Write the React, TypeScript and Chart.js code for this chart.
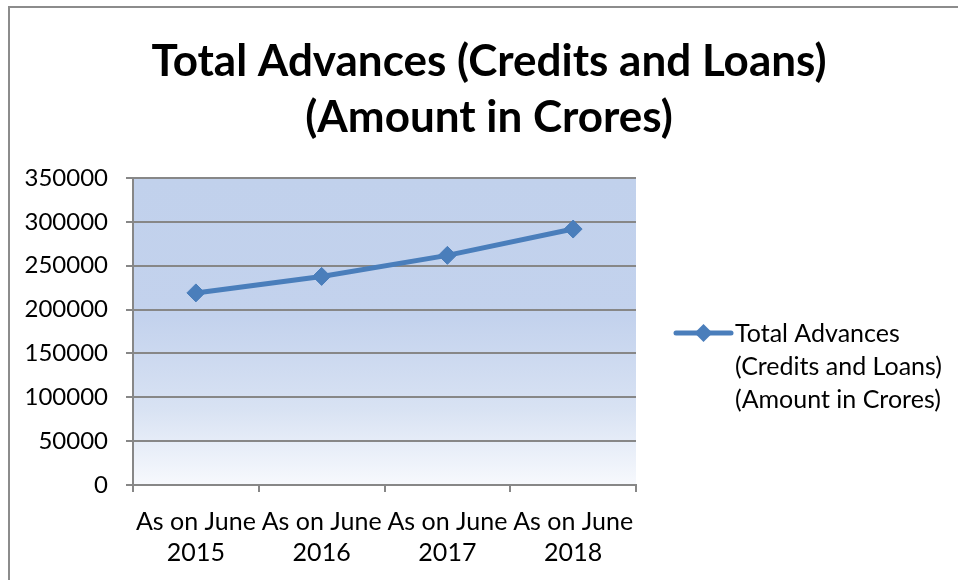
import React, { useEffect, useRef } from "react";
import { Chart, registerables } from "chart.js";

Chart.register(...registerables);

const categories: string[][] = [
  ["As on June", "2015"],
  ["As on June", "2016"],
  ["As on June", "2017"],
  ["As on June", "2018"],
];
const advances: number[] = [219000, 237800, 261800, 291800];
const titleLines: string[] = ["Total Advances (Credits and Loans)", "(Amount in Crores)"];
const seriesLabel = "Total Advances (Credits and Loans) (Amount in Crores)";
const legendLines: string[] = ["Total Advances", "(Credits and Loans)", "(Amount in Crores)"];
const yTicks: number[] = [0, 50000, 100000, 150000, 200000, 250000, 300000, 350000];

const FONT = "Lato, 'Open Sans', sans-serif";
const BLUE = "#4a7ebb";
const GRID = "#878787";

const bgPlugin = {
  id: "plotBg",
  beforeDraw(chart: any) {
    const { ctx, chartArea: a } = chart;
    const g = ctx.createLinearGradient(0, a.top, 0, a.bottom);
    g.addColorStop(0, "#c1d1ec");
    g.addColorStop(0.45, "#c3d2ed");
    g.addColorStop(0.75, "#d8e2f3");
    g.addColorStop(1, "#f7f9fd");
    ctx.save();
    ctx.fillStyle = g;
    ctx.fillRect(a.left, a.top, a.right - a.left, a.bottom - a.top);
    ctx.restore();
  },
};

const titlePlugin = {
  id: "wideTitle",
  afterDraw(chart: any) {
    const { ctx } = chart;
    ctx.save();
    ctx.fillStyle = "#000";
    ctx.font = `bold 44px ${FONT}`;
    ctx.textAlign = "center";
    ctx.textBaseline = "middle";
    titleLines.forEach((t, i) => ctx.fillText(t, 489, 62 + i * 56));
    ctx.restore();
  },
};

const legendPlugin = {
  id: "sideLegend",
  afterDraw(chart: any) {
    const { ctx } = chart;
    const x0 = 676;
    const x1 = 731;
    const y = 333;
    ctx.save();
    ctx.strokeStyle = BLUE;
    ctx.lineWidth = 5;
    ctx.lineCap = "round";
    ctx.beginPath();
    ctx.moveTo(x0, y);
    ctx.lineTo(x1, y);
    ctx.stroke();
    const cx = (x0 + x1) / 2;
    const r = 9;
    ctx.fillStyle = BLUE;
    ctx.beginPath();
    ctx.moveTo(cx, y - r);
    ctx.lineTo(cx + r, y);
    ctx.lineTo(cx, y + r);
    ctx.lineTo(cx - r, y);
    ctx.closePath();
    ctx.fill();
    ctx.fillStyle = "#000";
    ctx.font = `25px ${FONT}`;
    ctx.textAlign = "left";
    ctx.textBaseline = "middle";
    legendLines.forEach((t, i) => ctx.fillText(t, 735, y + 1 + i * 33));
    ctx.restore();
  },
};

export default function App() {
  const ref = useRef<HTMLCanvasElement | null>(null);
  useEffect(() => {
    if (!ref.current) return;
    const chart = new Chart(ref.current, {
      type: "line",
      data: {
        labels: categories,
        datasets: [
          {
            label: seriesLabel,
            data: advances,
            borderColor: BLUE,
            backgroundColor: BLUE,
            borderWidth: 5,
            pointStyle: "rectRot",
            pointRadius: 9,
            pointHoverRadius: 9,
            pointBackgroundColor: BLUE,
            pointBorderColor: BLUE,
            pointBorderWidth: 1,
            tension: 0,
          },
        ],
      },
      options: {
        responsive: false,
        animation: false,
        layout: { padding: { left: 9, right: 322, top: 178, bottom: 0 } },
        plugins: {
          legend: { display: false },
          tooltip: { enabled: false },
          title: { display: false },
        },
        scales: {
          x: {
            type: "category",
            offset: true,
            afterFit: (s: any) => {
              s.height = 95;
            },
            grid: {
              offset: true,
              drawOnChartArea: false,
              drawTicks: true,
              tickLength: 7,
              color: GRID,
              lineWidth: 2,
            },
            border: { display: true, color: GRID, width: 2 },
            ticks: {
              color: "#000",
              font: { family: FONT, size: 25, lineHeight: 1.24 },
              padding: 14,
              maxRotation: 0,
              autoSkip: false,
            },
          },
          y: {
            min: 0,
            max: 350000,
            afterFit: (s: any) => {
              s.width = 124;
            },
            afterBuildTicks: (s: any) => {
              s.ticks = yTicks.map((v) => ({ value: v }));
            },
            grid: {
              color: GRID,
              lineWidth: 2,
              tickLength: 7,
            },
            border: { display: true, color: GRID, width: 2 },
            ticks: {
              color: "#000",
              font: { family: FONT, size: 24 },
              padding: 18,
              callback: (v: any) => String(v),
            },
          },
        },
      },
      plugins: [bgPlugin, titlePlugin, legendPlugin],
    });
    return () => chart.destroy();
  }, []);

  return (
    <div
      style={{
        position: "fixed",
        left: 0,
        top: 0,
        width: 958,
        height: 580,
        overflow: "hidden",
        background: "#fff",
      }}
    >
      <div
        style={{
          position: "absolute",
          left: 8,
          top: 6,
          width: 1000,
          height: 640,
          border: "2px solid #8c8c8c",
        }}
      />
      <canvas
        ref={ref}
        width={958}
        height={580}
        style={{ position: "absolute", left: 0, top: 0 }}
      />
    </div>
  );
}
